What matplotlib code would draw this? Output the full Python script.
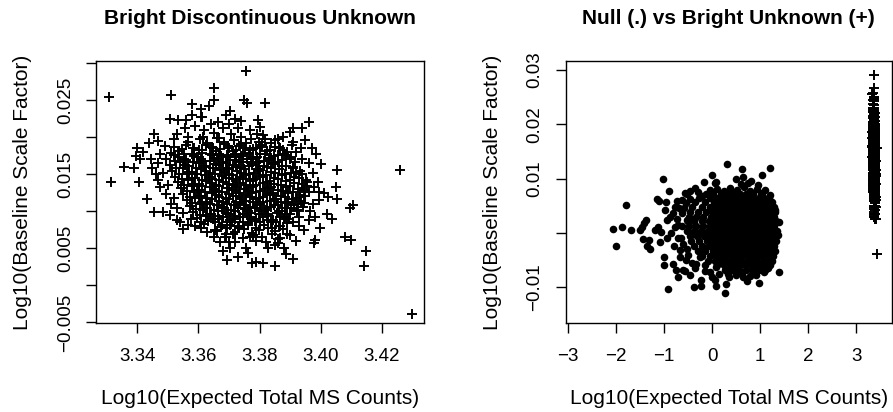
import numpy as np
import matplotlib
matplotlib.use("Agg")
import matplotlib.pyplot as plt

plt.rcParams["font.family"] = ["Liberation Sans", "DejaVu Sans"]

# Bright Discontinuous Unknown: (log10 expected counts, log10 baseline scale factor)
bright_core = [
    (3.3615, 0.0201), (3.3651, 0.0206), (3.3669, 0.0199), (3.3708, 0.0204), (3.3741, 0.0200), (3.3793, 0.0205), (3.3819, 0.0198),
    (3.3568, 0.0194), (3.3605, 0.0197), (3.3629, 0.0192), (3.3662, 0.0199), (3.3685, 0.0193), (3.3715, 0.0196), (3.3738, 0.0191),
    (3.3773, 0.0198), (3.3799, 0.0194), (3.3838, 0.0192), (3.3860, 0.0197),
    (3.3522, 0.0187), (3.3561, 0.0190), (3.3587, 0.0185), (3.3625, 0.0189), (3.3647, 0.0186), (3.3683, 0.0191), (3.3700, 0.0185),
    (3.3734, 0.0188), (3.3755, 0.0192), (3.3789, 0.0186), (3.3809, 0.0190), (3.3851, 0.0187), (3.3877, 0.0183),
    (3.3510, 0.0179), (3.3537, 0.0182), (3.3578, 0.0178), (3.3601, 0.0183), (3.3639, 0.0177), (3.3659, 0.0181), (3.3693, 0.0176),
    (3.3713, 0.0182), (3.3747, 0.0178), (3.3769, 0.0183), (3.3800, 0.0177), (3.3823, 0.0181), (3.3861, 0.0176), (3.3890, 0.0180),
    (3.3495, 0.0171), (3.3534, 0.0174), (3.3560, 0.0169), (3.3595, 0.0173), (3.3616, 0.0168), (3.3651, 0.0172), (3.3673, 0.0175),
    (3.3704, 0.0169), (3.3724, 0.0174), (3.3758, 0.0170), (3.3780, 0.0173), (3.3814, 0.0168), (3.3837, 0.0172), (3.3874, 0.0169),
    (3.3902, 0.0174),
    (3.3508, 0.0163), (3.3541, 0.0166), (3.3567, 0.0161), (3.3603, 0.0165), (3.3625, 0.0160), (3.3658, 0.0164), (3.3680, 0.0167),
    (3.3713, 0.0162), (3.3733, 0.0166), (3.3767, 0.0161), (3.3787, 0.0165), (3.3823, 0.0160), (3.3849, 0.0164), (3.3887, 0.0161),
    (3.3915, 0.0166),
    (3.3515, 0.0155), (3.3549, 0.0158), (3.3581, 0.0153), (3.3610, 0.0157), (3.3638, 0.0152), (3.3673, 0.0156), (3.3694, 0.0159),
    (3.3728, 0.0154), (3.3749, 0.0157), (3.3783, 0.0152), (3.3803, 0.0156), (3.3839, 0.0153), (3.3865, 0.0157), (3.3903, 0.0152),
    (3.3931, 0.0155),
    (3.3525, 0.0147), (3.3564, 0.0150), (3.3588, 0.0145), (3.3623, 0.0149), (3.3646, 0.0144), (3.3679, 0.0148), (3.3701, 0.0151),
    (3.3735, 0.0146), (3.3756, 0.0149), (3.3789, 0.0144), (3.3811, 0.0148), (3.3846, 0.0145), (3.3872, 0.0149), (3.3911, 0.0146),
    (3.3940, 0.0150),
    (3.3534, 0.0139), (3.3566, 0.0142), (3.3601, 0.0137), (3.3624, 0.0141), (3.3659, 0.0136), (3.3680, 0.0140), (3.3714, 0.0143),
    (3.3735, 0.0138), (3.3769, 0.0141), (3.3790, 0.0136), (3.3824, 0.0140), (3.3848, 0.0137), (3.3885, 0.0141), (3.3912, 0.0138),
    (3.3953, 0.0142),
    (3.3542, 0.0131), (3.3579, 0.0134), (3.3603, 0.0129), (3.3637, 0.0133), (3.3659, 0.0128), (3.3693, 0.0132), (3.3715, 0.0135),
    (3.3748, 0.0130), (3.3770, 0.0133), (3.3803, 0.0128), (3.3826, 0.0132), (3.3861, 0.0129), (3.3886, 0.0133), (3.3925, 0.0130),
    (3.3955, 0.0134),
    (3.3550, 0.0123), (3.3587, 0.0126), (3.3610, 0.0121), (3.3644, 0.0125), (3.3666, 0.0120), (3.3700, 0.0124), (3.3722, 0.0127),
    (3.3755, 0.0122), (3.3777, 0.0125), (3.3811, 0.0120), (3.3833, 0.0124), (3.3869, 0.0121), (3.3894, 0.0125), (3.3933, 0.0122),
    (3.3962, 0.0126),
    (3.3562, 0.0115), (3.3589, 0.0118), (3.3624, 0.0113), (3.3646, 0.0117), (3.3680, 0.0112), (3.3701, 0.0116), (3.3735, 0.0119),
    (3.3756, 0.0114), (3.3790, 0.0117), (3.3812, 0.0112), (3.3846, 0.0116), (3.3870, 0.0113), (3.3907, 0.0117), (3.3934, 0.0114),
    (3.3572, 0.0107), (3.3604, 0.0110), (3.3627, 0.0105), (3.3661, 0.0109), (3.3683, 0.0104), (3.3716, 0.0108), (3.3737, 0.0111),
    (3.3770, 0.0106), (3.3791, 0.0109), (3.3825, 0.0104), (3.3847, 0.0108), (3.3883, 0.0105), (3.3914, 0.0109), (3.3942, 0.0106),
    (3.3583, 0.0099), (3.3614, 0.0102), (3.3643, 0.0097), (3.3665, 0.0101), (3.3698, 0.0096), (3.3719, 0.0100), (3.3752, 0.0103),
    (3.3773, 0.0098), (3.3806, 0.0101), (3.3827, 0.0096), (3.3862, 0.0100), (3.3891, 0.0097), (3.3921, 0.0101),
    (3.3595, 0.0091), (3.3626, 0.0094), (3.3649, 0.0089), (3.3682, 0.0093), (3.3703, 0.0088), (3.3737, 0.0092), (3.3758, 0.0095),
    (3.3790, 0.0090), (3.3811, 0.0093), (3.3845, 0.0088), (3.3867, 0.0092), (3.3896, 0.0089),
    (3.3618, 0.0083), (3.3655, 0.0086), (3.3676, 0.0081), (3.3709, 0.0085), (3.3730, 0.0080), (3.3763, 0.0084), (3.3784, 0.0087),
    (3.3816, 0.0082), (3.3838, 0.0085), (3.3868, 0.0080), (3.3889, 0.0084),
    (3.3661, 0.0074), (3.3693, 0.0077), (3.3719, 0.0072), (3.3748, 0.0076), (3.3774, 0.0071), (3.3797, 0.0075), (3.3829, 0.0078),
    (3.3851, 0.0073), (3.3876, 0.0076),
    (3.3688, 0.0066), (3.3712, 0.0069), (3.3746, 0.0064), (3.3779, 0.0068), (3.3808, 0.0065), (3.3841, 0.0069), (3.3866, 0.0064),
]
bright_core_b = [
    (3.3548, 0.0184), (3.3582, 0.0186), (3.3613, 0.0183), (3.3644, 0.0187), (3.3672, 0.0184), (3.3697, 0.0188), (3.3722, 0.0183),
    (3.3751, 0.0186), (3.3778, 0.0184), (3.3806, 0.0187), (3.3834, 0.0183), (3.3866, 0.0185),
    (3.3520, 0.0176), (3.3553, 0.0178), (3.3586, 0.0175), (3.3613, 0.0179), (3.3645, 0.0176), (3.3668, 0.0178), (3.3697, 0.0173),
    (3.3720, 0.0177), (3.3741, 0.0175), (3.3767, 0.0179), (3.3792, 0.0174), (3.3818, 0.0177), (3.3847, 0.0175), (3.3880, 0.0178),
    (3.3524, 0.0168), (3.3553, 0.0170), (3.3582, 0.0167), (3.3610, 0.0171), (3.3639, 0.0168), (3.3664, 0.0170), (3.3692, 0.0165),
    (3.3719, 0.0169), (3.3746, 0.0167), (3.3773, 0.0171), (3.3798, 0.0166), (3.3830, 0.0169), (3.3861, 0.0167), (3.3898, 0.0170),
    (3.3528, 0.0159), (3.3558, 0.0162), (3.3591, 0.0158), (3.3618, 0.0161), (3.3648, 0.0158), (3.3668, 0.0162), (3.3700, 0.0157),
    (3.3722, 0.0160), (3.3741, 0.0158), (3.3775, 0.0162), (3.3795, 0.0157), (3.3815, 0.0161), (3.3838, 0.0158), (3.3874, 0.0161),
    (3.3908, 0.0158),
    (3.3537, 0.0151), (3.3570, 0.0153), (3.3597, 0.0150), (3.3626, 0.0154), (3.3656, 0.0150), (3.3685, 0.0153), (3.3710, 0.0149),
    (3.3738, 0.0152), (3.3766, 0.0150), (3.3794, 0.0154), (3.3822, 0.0149), (3.3852, 0.0152), (3.3883, 0.0150), (3.3919, 0.0153),
    (3.3548, 0.0143), (3.3580, 0.0145), (3.3611, 0.0142), (3.3636, 0.0146), (3.3668, 0.0142), (3.3692, 0.0145), (3.3722, 0.0141),
    (3.3746, 0.0144), (3.3779, 0.0142), (3.3802, 0.0146), (3.3835, 0.0141), (3.3860, 0.0144), (3.3898, 0.0142), (3.3928, 0.0145),
    (3.3552, 0.0135), (3.3587, 0.0137), (3.3613, 0.0134), (3.3645, 0.0138), (3.3669, 0.0134), (3.3701, 0.0137), (3.3725, 0.0133),
    (3.3757, 0.0136), (3.3780, 0.0134), (3.3812, 0.0138), (3.3836, 0.0133), (3.3871, 0.0136), (3.3899, 0.0134), (3.3938, 0.0137),
    (3.3563, 0.0127), (3.3595, 0.0129), (3.3622, 0.0126), (3.3652, 0.0130), (3.3679, 0.0126), (3.3709, 0.0129), (3.3734, 0.0125),
    (3.3763, 0.0128), (3.3788, 0.0126), (3.3818, 0.0130), (3.3844, 0.0125), (3.3878, 0.0128), (3.3909, 0.0126), (3.3944, 0.0129),
    (3.3572, 0.0119), (3.3603, 0.0121), (3.3630, 0.0118), (3.3658, 0.0122), (3.3689, 0.0118), (3.3713, 0.0121), (3.3744, 0.0117),
    (3.3768, 0.0120), (3.3798, 0.0118), (3.3823, 0.0122), (3.3855, 0.0117), (3.3882, 0.0120), (3.3919, 0.0118), (3.3950, 0.0121),
    (3.3581, 0.0111), (3.3611, 0.0113), (3.3639, 0.0110), (3.3668, 0.0114), (3.3694, 0.0110), (3.3722, 0.0113), (3.3750, 0.0109),
    (3.3778, 0.0112), (3.3803, 0.0110), (3.3833, 0.0114), (3.3860, 0.0109), (3.3893, 0.0112), (3.3925, 0.0110),
    (3.3593, 0.0103), (3.3620, 0.0105), (3.3652, 0.0102), (3.3676, 0.0106), (3.3707, 0.0102), (3.3730, 0.0105), (3.3762, 0.0101),
    (3.3785, 0.0104), (3.3817, 0.0102), (3.3838, 0.0106), (3.3872, 0.0101), (3.3902, 0.0104),
    (3.3606, 0.0095), (3.3638, 0.0097), (3.3664, 0.0094), (3.3692, 0.0098), (3.3716, 0.0094), (3.3746, 0.0097), (3.3770, 0.0093),
    (3.3799, 0.0096), (3.3825, 0.0094), (3.3856, 0.0098), (3.3882, 0.0093),
    (3.3633, 0.0087), (3.3666, 0.0089), (3.3693, 0.0086), (3.3720, 0.0090), (3.3746, 0.0086), (3.3773, 0.0089), (3.3800, 0.0085),
    (3.3827, 0.0088), (3.3854, 0.0086), (3.3879, 0.0089),
    (3.3675, 0.0079), (3.3705, 0.0081), (3.3733, 0.0078), (3.3762, 0.0082), (3.3787, 0.0078), (3.3813, 0.0081), (3.3840, 0.0077),
    (3.3863, 0.0080),
]
bright_outer = [
    (3.3307, 0.0255), (3.3315, 0.0140), (3.3356, 0.0160), (3.3390, 0.0158), (3.3400, 0.0186), (3.3408, 0.0139),
    (3.3395, 0.0175), (3.3410, 0.0170), (3.3420, 0.0180), (3.3433, 0.0117), (3.3456, 0.0099), (3.3456, 0.0205),
    (3.3440, 0.0192), (3.3450, 0.0158), (3.3467, 0.0142), (3.3476, 0.0133), (3.3485, 0.0099), (3.3476, 0.0178),
    (3.3485, 0.0152), (3.3496, 0.0124), (3.3506, 0.0095), (3.3506, 0.0225), (3.3512, 0.0257), (3.3510, 0.0110),
    (3.3521, 0.0198), (3.3535, 0.0223), (3.3540, 0.0086), (3.3550, 0.0076), (3.3560, 0.0223), (3.3565, 0.0200),
    (3.3578, 0.0245), (3.3580, 0.0230), (3.3608, 0.0238), (3.3611, 0.0227), (3.3635, 0.0242), (3.3652, 0.0267),
    (3.3652, 0.0251), (3.3703, 0.0236), (3.3665, 0.0220), (3.3720, 0.0225), (3.3755, 0.0290), (3.3748, 0.0250),
    (3.3758, 0.0246), (3.3818, 0.0246), (3.3795, 0.0224), (3.3810, 0.0203), (3.3876, 0.0201), (3.3910, 0.0213),
    (3.3940, 0.0213), (3.3960, 0.0221), (3.3950, 0.0196), (3.3970, 0.0185), (3.3985, 0.0177), (3.4000, 0.0164),
    (3.4054, 0.0156), (3.4258, 0.0156), (3.3973, 0.0152), (3.4050, 0.0133), (3.4054, 0.0116), (3.4025, 0.0120),
    (3.4096, 0.0105), (3.4106, 0.0108), (3.4079, 0.0066), (3.4098, 0.0061), (3.4148, 0.0047), (3.4141, 0.0026),
    (3.4299, -0.0038), (3.4020, 0.0097), (3.4036, 0.0090), (3.3998, 0.0077), (3.3982, 0.0061), (3.3977, 0.0057),
    (3.3946, 0.0075), (3.3910, 0.0035), (3.3886, 0.0043), (3.3860, 0.0057), (3.3851, 0.0026), (3.3826, 0.0050),
    (3.3810, 0.0030), (3.3790, 0.0032), (3.3775, 0.0030), (3.3762, 0.0044), (3.3757, 0.0050), (3.3730, 0.0039),
    (3.3694, 0.0034), (3.3680, 0.0047), (3.3705, 0.0050), (3.3690, 0.0065), (3.3700, 0.0059), (3.3689, 0.0070),
    (3.3653, 0.0075), (3.3608, 0.0077), (3.3608, 0.0086), (3.3565, 0.0082), (3.3532, 0.0088), (3.3770, 0.0066),
    (3.3780, 0.0068), (3.3860, 0.0062), (3.3880, 0.0050), (3.3890, 0.0070), (3.3900, 0.0068), (3.3910, 0.0085),
    (3.3930, 0.0093), (3.3960, 0.0088), (3.3980, 0.0093), (3.3993, 0.0115), (3.3993, 0.0126), (3.3977, 0.0133),
    (3.3955, 0.0140), (3.3938, 0.0131), (3.3933, 0.0120), (3.3946, 0.0111), (3.3922, 0.0102), (3.3900, 0.0097),
    (3.3890, 0.0111), (3.3910, 0.0160), (3.3938, 0.0171), (3.3910, 0.0194), (3.3900, 0.0207), (3.3888, 0.0176),
    (3.3864, 0.0187), (3.3850, 0.0196), (3.3843, 0.0165),
    (3.3470, 0.0195), (3.3490, 0.0188), (3.3530, 0.0205), (3.3555, 0.0212), (3.3590, 0.0215), (3.3620, 0.0210),
    (3.3640, 0.0218), (3.3680, 0.0212), (3.3700, 0.0218), (3.3730, 0.0213), (3.3770, 0.0210), (3.3800, 0.0214),
    (3.3610, 0.0228), (3.3690, 0.0230), (3.3740, 0.0222), (3.3470, 0.0165), (3.3462, 0.0150), (3.3445, 0.0170),
    (3.3500, 0.0135), (3.3520, 0.0118), (3.3530, 0.0105), (3.3550, 0.0098), (3.3575, 0.0090), (3.3590, 0.0080),
    (3.3630, 0.0072), (3.3650, 0.0065), (3.3670, 0.0058), (3.3720, 0.0058), (3.3790, 0.0060), (3.3820, 0.0058),
    (3.3850, 0.0055), (3.3920, 0.0060), (3.3930, 0.0080), (3.3965, 0.0100), (3.3975, 0.0110), (3.3990, 0.0140),
    (3.4010, 0.0125), (3.3960, 0.0165), (3.3935, 0.0185), (3.3920, 0.0180), (3.3905, 0.0190),
]

# Null: filled dots, core rows as (y, [x ...])
null_core_rows = [
    (0.0072, [-0.12, 0.02, 0.18, 0.31, 0.45, 0.58, 0.70, 0.86, 1.01]),
    (0.0064, [-0.28, -0.05, 0.08, 0.19, 0.30, 0.41, 0.52, 0.63, 0.75, 0.86, 0.97, 1.09, 1.19]),
    (0.0056, [-0.36, -0.14, 0.03, 0.13, 0.24, 0.35, 0.46, 0.57, 0.68, 0.79, 0.90, 1.01, 1.12, 1.24]),
    (0.0047, [-0.41, -0.22, -0.04, 0.07, 0.18, 0.29, 0.40, 0.51, 0.62, 0.73, 0.84, 0.95, 1.06, 1.17, 1.28]),
    (0.0039, [-0.46, -0.30, -0.12, 0.02, 0.12, 0.23, 0.34, 0.45, 0.56, 0.67, 0.78, 0.89, 1.00, 1.11, 1.22, 1.31]),
    (0.0030, [-0.48, -0.33, -0.18, -0.03, 0.07, 0.18, 0.29, 0.40, 0.51, 0.62, 0.73, 0.84, 0.95, 1.06, 1.17, 1.28]),
    (0.0021, [-0.51, -0.37, -0.21, -0.07, 0.03, 0.13, 0.24, 0.35, 0.46, 0.57, 0.68, 0.79, 0.90, 1.01, 1.12, 1.23, 1.34]),
    (0.0012, [-0.49, -0.34, -0.19, -0.04, 0.07, 0.18, 0.29, 0.40, 0.51, 0.62, 0.73, 0.84, 0.95, 1.06, 1.17, 1.28]),
    (0.0003, [-0.52, -0.38, -0.23, -0.09, 0.02, 0.13, 0.24, 0.35, 0.46, 0.57, 0.68, 0.79, 0.90, 1.01, 1.12, 1.23, 1.35]),
    (-0.0006, [-0.47, -0.31, -0.16, -0.03, 0.08, 0.19, 0.30, 0.41, 0.52, 0.63, 0.74, 0.85, 0.96, 1.07, 1.18, 1.29]),
    (-0.0015, [-0.43, -0.27, -0.11, 0.02, 0.13, 0.24, 0.35, 0.46, 0.57, 0.68, 0.79, 0.90, 1.01, 1.12, 1.23, 1.33]),
    (-0.0024, [-0.38, -0.22, -0.06, 0.07, 0.18, 0.29, 0.40, 0.51, 0.62, 0.73, 0.84, 0.95, 1.06, 1.17, 1.28]),
    (-0.0033, [-0.30, -0.14, 0.01, 0.12, 0.23, 0.34, 0.45, 0.56, 0.67, 0.78, 0.89, 1.00, 1.11, 1.22, 1.31]),
    (-0.0042, [-0.20, -0.04, 0.08, 0.19, 0.30, 0.41, 0.52, 0.63, 0.74, 0.85, 0.96, 1.07, 1.18, 1.27]),
    (-0.0051, [-0.08, 0.06, 0.17, 0.28, 0.39, 0.50, 0.61, 0.72, 0.83, 0.94, 1.05, 1.16, 1.24]),
    (-0.0060, [0.10, 0.24, 0.36, 0.47, 0.58, 0.69, 0.80, 0.91, 1.02, 1.13, 1.21]),
    (-0.0069, [0.27, 0.42, 0.56, 0.70, 0.84, 0.97, 1.10]),
]
null_outer = [
    (-2.07, 0.0007), (-2.01, -0.0025), (-1.87, 0.0011), (-1.79, 0.0052), (-1.68, 0.0006), (-1.50, 0.0005),
    (-1.46, 0.0011), (-1.41, 0.0018), (-1.38, 0.0023), (-1.43, -0.0012), (-1.32, -0.0014), (-1.30, -0.0029),
    (-1.36, -0.0025), (-1.19, 0.0006), (-1.12, 0.0011), (-1.09, -0.0017), (-1.07, 0.0001), (-1.03, 0.0100),
    (-1.14, 0.0062), (-1.10, 0.0058), (-0.96, 0.0057), (-0.89, 0.0077), (-0.98, 0.0042), (-1.00, -0.0044),
    (-1.00, -0.0060), (-0.91, -0.0103), (-0.93, -0.0009), (-0.93, 0.0023), (-0.88, 0.0030), (-0.81, 0.0036),
    (-0.73, 0.0059), (-0.78, 0.0048), (-0.73, 0.0026), (-0.77, 0.0011), (-0.85, -0.0001), (-0.79, -0.0025),
    (-0.81, -0.0057), (-0.76, -0.0068), (-0.70, -0.0082), (-0.61, -0.0068), (-0.57, -0.0071), (-0.67, -0.0044),
    (-0.66, -0.0032), (-0.53, -0.0029), (-0.57, 0.0074), (-0.52, 0.0072), (-0.58, 0.0045), (-0.53, 0.0023),
    (-0.62, 0.0036), (-0.45, -0.0078), (-0.37, -0.0100), (-0.24, -0.0086), (-0.24, -0.0097), (-0.33, -0.0057),
    (-0.15, -0.0060), (-0.36, 0.0082), (-0.17, 0.0094), (-0.01, 0.0106), (0.06, 0.0091), (0.09, 0.0094),
    (0.31, 0.0127), (0.06, -0.0087), (0.09, -0.0098), (0.26, -0.0111), (0.28, -0.0094), (0.44, 0.0074),
    (0.49, 0.0100), (0.63, 0.0118), (0.65, 0.0103), (0.82, 0.0095), (1.03, 0.0106), (1.20, 0.0120),
    (1.03, 0.0074), (1.20, 0.0070), (1.32, 0.0042), (1.39, 0.0020), (1.37, -0.0004), (1.39, -0.0072),
    (0.98, -0.0092), (0.91, -0.0078), (0.65, -0.0082), (1.09, -0.0072), (0.34, -0.0075), (0.44, -0.0068),
    (0.09, -0.0063), (0.23, -0.0054), (-0.62, 0.0012), (-0.64, -0.0010), (-0.55, -0.0050), (-0.45, 0.0062),
    (0.10, 0.0080), (0.25, 0.0078), (0.38, 0.0083), (0.52, 0.0079), (0.66, 0.0085), (0.78, 0.0078),
    (0.93, 0.0081), (1.10, 0.0079), (-0.05, 0.0079), (0.60, 0.0090), (0.75, 0.0092), (0.95, 0.0088),
    (0.15, -0.0075), (0.50, -0.0077), (0.62, -0.0074), (0.78, -0.0079), (1.00, -0.0066), (1.17, -0.0064),
    (0.35, -0.0082), (0.72, -0.0088), (-0.70, 0.0015), (-0.68, 0.0045), (-0.60, -0.0020), (-0.72, -0.0010),
    (-0.63, 0.0060), (-0.55, 0.0055), (-0.50, -0.0040), (-0.42, -0.0055), (-0.35, -0.0065), (-0.25, -0.0045),
    (-0.20, 0.0068), (-0.30, 0.0075), (-0.45, 0.0078), (-0.15, -0.0070), (-0.05, -0.0072), (0.00, -0.0082),
]

bright = np.array(bright_core + bright_core_b + bright_outer)
null = np.array([(x, y) for y, xs in null_core_rows for x in xs] + null_outer)

fig = plt.figure(figsize=(8.93, 4.12), dpi=100)


def style_axes(ax):
    for s in ax.spines.values():
        s.set_linewidth(1.0)
    ax.tick_params(length=7, width=1.0, labelsize=13.5)
    ax.tick_params(axis="y", labelrotation=90, pad=9)
    ax.tick_params(axis="x", pad=11)
    for lab in ax.get_yticklabels():
        lab.set_va("center")


# left panel
ax1 = fig.add_axes([96 / 893, 89 / 412, 328 / 893, 262 / 412])
ax1.scatter(bright[:, 0], bright[:, 1], marker="+", s=55, c="black", linewidths=1.4)
ax1.set_xlim(3.3266, 3.4337)
ax1.set_ylim(-0.00508, 0.0303)
ax1.set_xticks([3.34, 3.36, 3.38, 3.40, 3.42])
ax1.set_xticklabels(["3.34", "3.36", "3.38", "3.40", "3.42"])
ax1.set_yticks([-0.005, 0.0, 0.005, 0.01, 0.015, 0.02, 0.025, 0.03])
ax1.set_yticklabels(["\u22120.005", "", "0.005", "", "0.015", "", "0.025", ""])
style_axes(ax1)

# right panel
ax2 = fig.add_axes([565.7 / 893, 89 / 412, 326 / 893, 262 / 412])
ax2.scatter(null[:, 0], null[:, 1], marker="o", s=30, c="black", linewidths=0)
ax2.scatter(bright[:, 0], bright[:, 1], marker="+", s=55, c="black", linewidths=1.4)
ax2.set_xlim(-3.048, 3.74)
ax2.set_ylim(-0.0166, 0.03166)
ax2.set_xticks([-3, -2, -1, 0, 1, 2, 3])
ax2.set_xticklabels(["\u22123", "\u22122", "\u22121", "0", "1", "2", "3"])
ax2.set_yticks([-0.01, 0.0, 0.01, 0.02, 0.03])
ax2.set_yticklabels(["\u22120.01", "", "0.01", "0.02", "0.03"])
style_axes(ax2)

# titles and axis labels
for cx, title, ylx in [(260, "Bright Discontinuous Unknown", 23),
                       (728.7, "Null (.) vs Bright Unknown (+)", 492)]:
    fig.text(cx / 893, 1 - 23.5 / 412, title, ha="center", va="baseline",
             fontsize=15, fontweight="bold")
    fig.text(cx / 893, 1 - 404 / 412, "Log10(Expected Total MS Counts)",
             ha="center", va="baseline", fontsize=15)
    fig.text(ylx / 893, 1 - 192 / 412, "Log10(Baseline Scale Factor)",
             ha="center", va="center", rotation=90, fontsize=15)

fig.savefig("out.png", dpi=100)
